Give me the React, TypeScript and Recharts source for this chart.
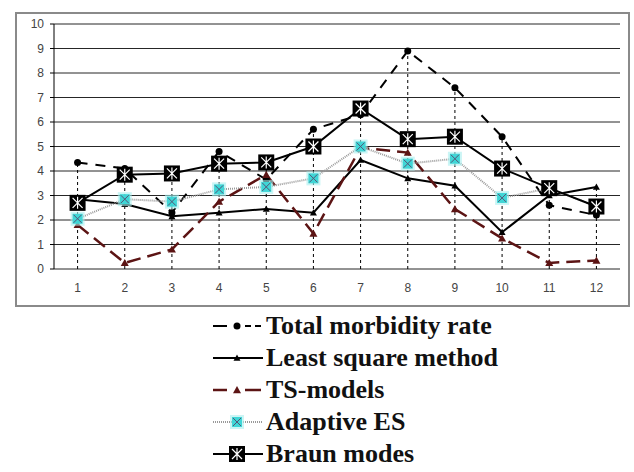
import React from 'react';
import { LineChart, Line, XAxis, YAxis, CartesianGrid, ReferenceLine } from 'recharts';

const months = [1, 2, 3, 4, 5, 6, 7, 8, 9, 10, 11, 12];
const totalMorbidity = [4.35, 4.1, 2.3, 4.8, 3.65, 5.7, 6.3, 8.9, 7.4, 5.4, 2.6, 2.2];
const leastSquare = [2.85, 2.65, 2.15, 2.3, 2.45, 2.3, 4.45, 3.7, 3.4, 1.5, 3.0, 3.35];
const tsModels = [1.8, 0.25, 0.8, 2.75, 3.85, 1.45, 4.95, 4.75, 2.45, 1.25, 0.25, 0.35];
const adaptiveES = [2.05, 2.85, 2.75, 3.25, 3.35, 3.7, 5.0, 4.3, 4.5, 2.9, 3.3, 2.55];
const braun = [2.7, 3.85, 3.9, 4.3, 4.35, 5.0, 6.55, 5.3, 5.4, 4.1, 3.3, 2.55];
const yTicks = [0, 1, 2, 3, 4, 5, 6, 7, 8, 9, 10];

const data = months.map((m, i) => ({
  m,
  total: totalMorbidity[i],
  lsm: leastSquare[i],
  ts: tsModels[i],
  aes: adaptiveES[i],
  braun: braun[i],
}));

// tick marks sit between categories
const boundaries = [months[0] - 0.5, ...months.map((m) => m + 0.5)];
const dropTops = months.map((m, i) => ({
  m,
  top: Math.max(totalMorbidity[i], leastSquare[i], tsModels[i], adaptiveES[i], braun[i]),
}));

const BROWN = '#5c1414';
const CYAN = '#3fd6d6';

const CircleDot = (p: any) => <circle key={p.index} cx={p.cx} cy={p.cy} r={3.5} fill="#000" />;
const Tri = (color: string, s: number) => (p: any) => (
  <polygon
    key={p.index}
    points={`${p.cx},${p.cy - s} ${p.cx - s},${p.cy + s * 0.8} ${p.cx + s},${p.cy + s * 0.8}`}
    fill={color}
  />
);
const CyanDot = (p: any) => (
  <g key={p.index}>
    <rect x={p.cx - 7} y={p.cy - 7} width={14} height={14} fill="#a8eeee" opacity={0.6} />
    <rect x={p.cx - 5} y={p.cy - 5} width={10} height={10} fill={CYAN} />
    <path d={`M${p.cx - 4},${p.cy - 4}L${p.cx + 4},${p.cy + 4}M${p.cx + 4},${p.cy - 4}L${p.cx - 4},${p.cy + 4}`} stroke="#557" strokeWidth={1} />
  </g>
);
const BraunDot = (p: any) => (
  <g key={p.index}>
    <rect x={p.cx - 8} y={p.cy - 8} width={16} height={16} fill="#000" />
    <path
      d={`M${p.cx - 5},${p.cy - 5}L${p.cx + 5},${p.cy + 5}M${p.cx + 5},${p.cy - 5}L${p.cx - 5},${p.cy + 5}M${p.cx},${p.cy - 6}L${p.cx},${p.cy + 6}`}
      stroke="#fff"
      strokeWidth={1.2}
    />
  </g>
);

const legendItems = [
  { name: 'Total morbidity rate', icon: 'total' },
  { name: 'Least square method', icon: 'lsm' },
  { name: 'TS-models', icon: 'ts' },
  { name: 'Adaptive ES', icon: 'aes' },
  { name: 'Braun modes', icon: 'braun' },
];

const LegendIcon = ({ kind }: { kind: string }) => {
  const c = { cx: 25, cy: 10, index: 0 };
  return (
    <svg width={52} height={20} style={{ flex: 'none' }}>
      {kind === 'total' && (
        <>
          <line x1={1} y1={10} x2={15} y2={10} stroke="#000" strokeWidth={2} />
          <line x1={33} y1={10} x2={51} y2={10} stroke="#000" strokeWidth={2} strokeDasharray="6 4" />
          <CircleDot {...c} />
        </>
      )}
      {kind === 'lsm' && (
        <>
          <line x1={1} y1={10} x2={51} y2={10} stroke="#000" strokeWidth={2} />
          {Tri('#000', 3.5)(c)}
        </>
      )}
      {kind === 'ts' && (
        <>
          <line x1={1} y1={10} x2={15} y2={10} stroke={BROWN} strokeWidth={2.5} />
          <line x1={33} y1={10} x2={49} y2={10} stroke={BROWN} strokeWidth={2.5} />
          {Tri(BROWN, 4)(c)}
        </>
      )}
      {kind === 'aes' && (
        <>
          <line x1={1} y1={10} x2={51} y2={10} stroke="#999" strokeWidth={2} strokeDasharray="1 1" />
          <CyanDot {...c} />
        </>
      )}
      {kind === 'braun' && (
        <>
          <line x1={1} y1={10} x2={51} y2={10} stroke="#000" strokeWidth={2} />
          <BraunDot {...c} />
        </>
      )}
    </svg>
  );
};

const tickFont = { fill: '#444', fontSize: 12, fontFamily: 'Liberation Sans, Arial, sans-serif' };

export default function App() {
  return (
    <div style={{ position: 'absolute', left: 0, top: 0, width: 634, height: 472, background: '#fff' }}>
      <div
        style={{
          position: 'absolute',
          left: 15,
          top: 12,
          width: 611,
          height: 291,
          border: '2px solid #8a8a8a',
        }}
      />
      <div style={{ position: 'absolute', left: 0, top: 0 }}>
        <LineChart width={634} height={300} data={data} margin={{ top: 24, right: 14, left: 14, bottom: 1 }}>
          <CartesianGrid vertical={false} stroke="#000" strokeOpacity={0.85} />
          <XAxis
            xAxisId="b"
            type="number"
            dataKey="m"
            domain={[0.5, 12.5]}
            ticks={boundaries}
            tick={false}
            tickSize={6}
            height={0}
            stroke="#000"
          />
          <XAxis
            type="number"
            dataKey="m"
            domain={[0.5, 12.5]}
            ticks={months}
            tickLine={false}
            axisLine={false}
            tickSize={6}
            tickMargin={8}
            height={30}
            tick={tickFont}
          />
          <YAxis
            type="number"
            domain={[0, 10]}
            ticks={yTicks}
            width={40}
            tickSize={4}
            tickMargin={6}
            stroke="#000"
            tick={tickFont}
          />
          <YAxis yAxisId="r" orientation="right" type="number" domain={[0, 10]} width={0} tick={false} tickLine={false} stroke="#888" />
          {dropTops.map((d) => (
            <ReferenceLine
              key={d.m}
              segment={[
                { x: d.m, y: 0 },
                { x: d.m, y: d.top },
              ]}
              stroke="#000"
              strokeDasharray="3 3"
              strokeWidth={1}
            />
          ))}
          <Line dataKey="total" stroke="#000" strokeWidth={2} strokeDasharray="10 8" dot={CircleDot} isAnimationActive={false} />
          <Line dataKey="lsm" stroke="#000" strokeWidth={2} dot={Tri('#000', 3.5)} isAnimationActive={false} />
          <Line dataKey="ts" stroke={BROWN} strokeWidth={2.5} strokeDasharray="14 7" dot={Tri(BROWN, 4)} isAnimationActive={false} />
          <Line dataKey="aes" stroke="#9a9a9a" strokeWidth={2} strokeDasharray="1 1" dot={CyanDot} isAnimationActive={false} />
          <Line dataKey="braun" stroke="#000" strokeWidth={2} dot={BraunDot} isAnimationActive={false} />
        </LineChart>
      </div>
      <div
        style={{
          position: 'absolute',
          left: 212,
          top: 310,
          fontFamily: '"Liberation Serif", "Times New Roman", serif',
          fontWeight: 'bold',
          fontSize: 26,
          color: '#111',
        }}
      >
        {legendItems.map((it) => (
          <div key={it.name} style={{ display: 'flex', alignItems: 'center', height: 32 }}>
            <LegendIcon kind={it.icon} />
            <span style={{ marginLeft: 2, whiteSpace: 'nowrap', lineHeight: '32px' }}>{it.name}</span>
          </div>
        ))}
      </div>
    </div>
  );
}
